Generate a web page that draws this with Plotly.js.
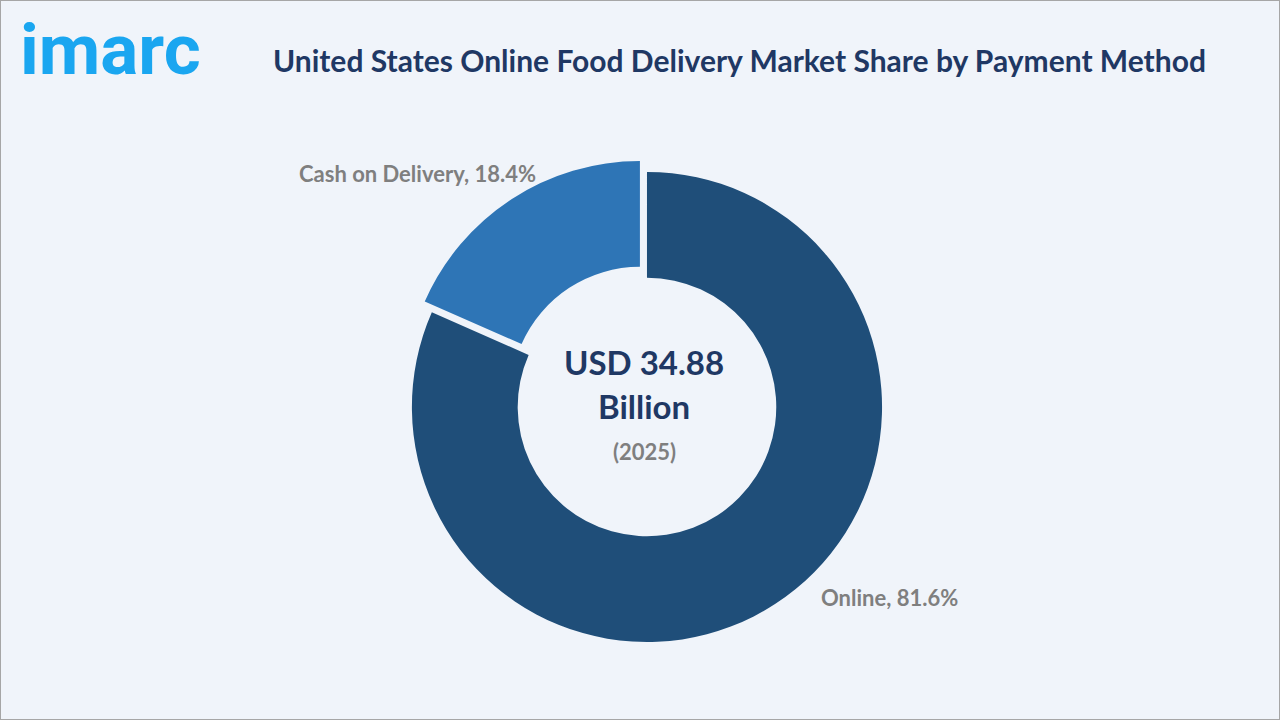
<!DOCTYPE html>
<html>
<head>
<meta charset="utf-8">
<script src="https://cdn.plot.ly/plotly-3.0.1.min.js"></script>
<style>html,body{margin:0;padding:0;background:#f0f4fa;}#chart{width:1280px;height:720px;}</style>
</head>
<body>
<div id="chart"></div>
<script>
const categories = ["Online", "Cash on Delivery"];
const shares = [81.6, 18.4];
const sliceColors = ["#1f4e79", "#2e75b6"];
const pulls = [0, 0.055];
const centerValue = "USD 34.88";
const centerUnit = "Billion";
const centerYear = "(2025)";
const chartTitle = "United States Online Food Delivery Market Share by Payment Method";

const trace = {
  type: "pie",
  labels: categories,
  values: shares,
  hole: 0.55,
  sort: false,
  direction: "clockwise",
  rotation: 0,
  pull: pulls,
  marker: {colors: sliceColors, line: {width: 0}},
  textinfo: "none",
  hoverinfo: "label+percent",
  domain: {x: [0.3117, 0.6992], y: [0.0903, 0.7792]},
  showlegend: false
};

const labelFont = {family: "Lato, 'Open Sans', sans-serif", size: 22, color: "#7f7f7f"};

const layout = {
  width: 1280, height: 720,
  margin: {l: 0, r: 0, t: 0, b: 0},
  paper_bgcolor: "#f0f4fa",
  plot_bgcolor: "#f0f4fa",
  showlegend: false,
  shapes: [{type: "rect", xref: "paper", yref: "paper", x0: 0, x1: 1, y0: 0, y1: 1,
            line: {color: "#a6a6a6", width: 2}}],
  annotations: [
    {text: "<b>" + chartTitle + "</b>", xref: "paper", yref: "paper", x: 739/1280, y: 1 - 60/720,
     xanchor: "center", yanchor: "middle", showarrow: false,
     font: {family: "Lato, sans-serif", size: 30, color: "#1f3864"}},
    {text: "<b>imarc</b>", xref: "paper", yref: "paper", x: 18/1280, y: 1 - 50/720,
     xanchor: "left", yanchor: "middle", showarrow: false,
     font: {family: "Roboto, sans-serif", size: 71, color: "#1aa6f0"}},
    {text: "<b>" + categories[1] + ", " + shares[1].toFixed(1) + "%</b>", xref: "paper", yref: "paper",
     x: 297/1280, y: 1 - 173/720, xanchor: "left", yanchor: "middle", showarrow: false, font: labelFont},
    {text: "<b>" + categories[0] + ", " + shares[0].toFixed(1) + "%</b>", xref: "paper", yref: "paper",
     x: 819/1280, y: 1 - 597/720, xanchor: "left", yanchor: "middle", showarrow: false, font: labelFont},
    {text: "<b>" + centerValue + "</b>", xref: "paper", yref: "paper", x: 644/1280, y: 1 - 362/720,
     xanchor: "center", yanchor: "middle", showarrow: false,
     font: {family: "Lato, sans-serif", size: 33, color: "#1f3864"}},
    {text: "<b>" + centerUnit + "</b>", xref: "paper", yref: "paper", x: 644/1280, y: 1 - 406/720,
     xanchor: "center", yanchor: "middle", showarrow: false,
     font: {family: "Lato, sans-serif", size: 33, color: "#1f3864"}},
    {text: "<b>" + centerYear + "</b>", xref: "paper", yref: "paper", x: 644/1280, y: 1 - 451/720,
     xanchor: "center", yanchor: "middle", showarrow: false,
     font: {family: "Lato, sans-serif", size: 22, color: "#7f7f7f"}}
  ]
};

Plotly.newPlot("chart", [trace], layout, {displayModeBar: false, staticPlot: true});
</script>
</body>
</html>
